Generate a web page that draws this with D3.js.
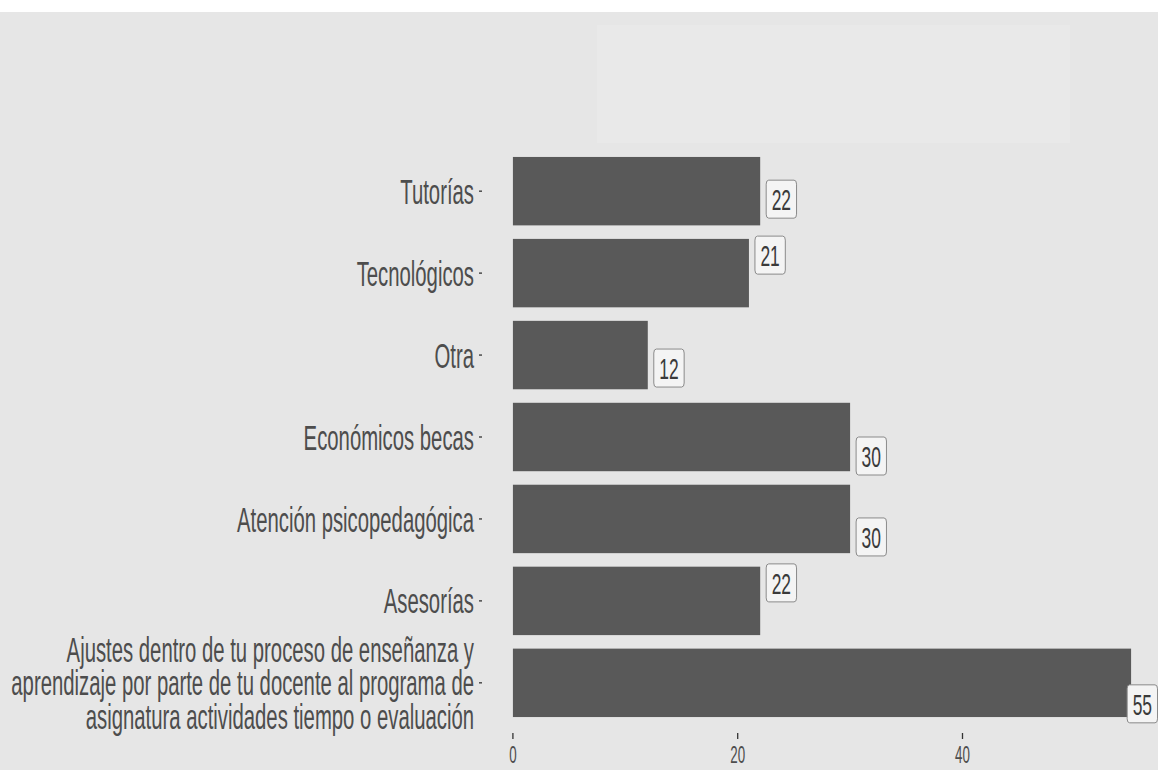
<!DOCTYPE html>
<html>
<head>
<meta charset="utf-8">
<script src="https://cdn.jsdelivr.net/npm/d3@7"></script>
<style>
  html, body { margin: 0; padding: 0; background: #ffffff; }
  svg { display: block; }
  text { font-family: "Liberation Sans", Arial, sans-serif; }
</style>
</head>
<body>
<svg id="chart" width="1158" height="770"></svg>
<script>
// Categories, top to bottom
const categories = [
  "Tutorías",
  "Tecnológicos",
  "Otra",
  "Económicos becas",
  "Atención psicopedagógica",
  "Asesorías",
  "Ajustes dentro de tu proceso de enseñanza y\naprendizaje por parte de tu docente al programa de\nasignatura actividades tiempo o evaluación"
];
// Counts per category
const counts = [22, 21, 12, 30, 30, 22, 55];
// X-axis tick values
const xTicks = [0, 20, 40];

const W = 1158, H = 770;
const squeeze = 0.58;               // horizontal text compression
const svg = d3.select("#chart");

// background
svg.append("rect").attr("x", 0).attr("y", 0).attr("width", W).attr("height", H).attr("fill", "#ffffff");
svg.append("rect").attr("x", 0).attr("y", 12).attr("width", W).attr("height", H - 12).attr("fill", "#e6e6e6");
// empty legend area
svg.append("rect").attr("x", 597).attr("y", 25).attr("width", 473).attr("height", 118).attr("fill", "#e9e9e9");

const panel = { left: 482, right: 1162, top: 142, bottom: 732 };

const x = d3.scaleLinear()
  .domain([-0.05 * 55, 55 * 1.05])
  .range([panel.left, panel.right]);

const pi = 0.165;
const y = d3.scaleBand()
  .domain(categories)
  .range([panel.top, panel.bottom])
  .paddingInner(pi)
  .paddingOuter(0.1 + pi / 2);

// bars
svg.append("g").selectAll("rect")
  .data(categories)
  .join("rect")
  .attr("x", x(0))
  .attr("y", d => y(d))
  .attr("width", (d, i) => x(counts[i]) - x(0))
  .attr("height", y.bandwidth())
  .attr("fill", "#595959");

// y axis: ticks and wrapped labels (one text element per category)
const yAxis = svg.append("g");
categories.forEach(c => {
  const cy = y(c) + y.bandwidth() / 2;
  yAxis.append("line")
    .attr("x1", panel.left - 3).attr("x2", panel.left)
    .attr("y1", cy).attr("y2", cy)
    .attr("stroke", "#333333").attr("stroke-width", 1.3);
  const lines = c.split("\n");
  const lh = 33.3;
  const fs = 35;
  const y0 = cy + 0.36 * fs - (lines.length - 1) / 2 * lh;
  const t = yAxis.append("text")
    .attr("transform", `translate(${panel.left - 8},${y0}) scale(${squeeze},1)`)
    .attr("text-anchor", "end")
    .attr("font-size", fs)
    .attr("fill", "#4d4d4d");
  lines.forEach((ln, k) => {
    t.append("tspan").attr("x", 0).attr("y", k * lh).text(ln);
  });
});

// x axis: ticks and labels
const xAxis = svg.append("g");
xTicks.forEach(t => {
  xAxis.append("line")
    .attr("x1", x(t)).attr("x2", x(t))
    .attr("y1", panel.bottom + 1).attr("y2", panel.bottom + 7)
    .attr("stroke", "#333333").attr("stroke-width", 1.3);
  xAxis.append("text")
    .attr("transform", `translate(${x(t)},763) scale(${squeeze},1)`)
    .attr("text-anchor", "middle")
    .attr("font-size", 23)
    .attr("fill", "#4d4d4d")
    .text(t);
});

// value labels beside each bar, nudged up or down to avoid overlaps
const labelShift = [8, -18, 13, 19, 18, -18, 21];
const lab = svg.append("g");
categories.forEach((c, i) => {
  const cy = y(c) + y.bandwidth() / 2 + labelShift[i];
  const fs = 30;
  const g = lab.append("g");
  const t = g.append("text")
    .attr("text-anchor", "middle")
    .attr("font-size", fs)
    .attr("fill", "#3a3a3a")
    .text(counts[i]);
  const tw = t.node().getComputedTextLength() * squeeze;
  const bw = tw + 11, bh = 38;
  let left = x(counts[i]) + 6;
  if (left + bw > W - 0.5) left = W - 0.5 - bw;
  g.insert("rect", "text")
    .attr("x", left).attr("y", cy - bh / 2)
    .attr("width", bw).attr("height", bh)
    .attr("rx", 2.5).attr("ry", 4)
    .attr("fill", "#f4f4f4")
    .attr("stroke", "#8a8a8a").attr("stroke-width", 1);
  t.attr("transform", `translate(${left + bw / 2},${cy + 0.36 * fs}) scale(${squeeze},1)`);
});
</script>
</body>
</html>
